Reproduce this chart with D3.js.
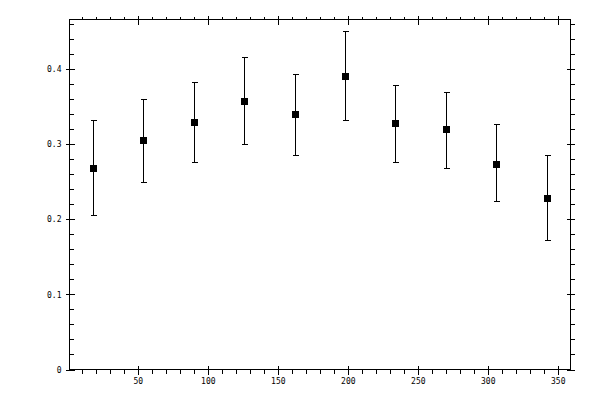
<!DOCTYPE html>
<html>
<head>
<meta charset="utf-8">
<script src="https://cdn.jsdelivr.net/npm/d3@7"></script>
<style>
  body { margin: 0; background: #fff; }
  svg { display: block; }
  text { font-family: "DejaVu Sans Mono", monospace; font-size: 8px; fill: #000; }
</style>
</head>
<body>
<svg id="chart"></svg>
<script>
// bin centres and measured fractions with their error bars
var xVals  = [18, 54, 90, 126, 162, 198, 234, 270, 306, 342]
var yVals  = [0.269, 0.306, 0.330, 0.358, 0.341, 0.3915, 0.328, 0.320, 0.274, 0.229]
var yLow   = [0.206, 0.250, 0.277, 0.300, 0.286, 0.333, 0.277, 0.268, 0.224, 0.173]
var yHigh  = [0.332, 0.360, 0.3835, 0.417, 0.394, 0.4515, 0.3795, 0.370, 0.3265, 0.2863]

var xMajor = [50, 100, 150, 200, 250, 300, 350]
var xMinor = d3.range(10, 360, 10)
var yMajor = [0, 0.1, 0.2, 0.3, 0.4]
var yMinor = d3.range(0, 0.47, 0.02)
var yLabels = ["0", "0.1", "0.2", "0.3", "0.4"]

var dimensions = {
    width: 600,
    height: 400,
    margin: { top: 19.5, bottom: 30.5, left: 69.5, right: 29.5 }
}

var svg = d3.select("#chart")
    .attr("width", dimensions.width)
    .attr("height", dimensions.height)

var xScale = d3.scaleLinear()
    .domain([1.2, 359.1])
    .range([dimensions.margin.left, dimensions.width - dimensions.margin.right])

var yScale = d3.scaleLinear()
    .domain([0, 0.4664])
    .range([dimensions.height - dimensions.margin.bottom, dimensions.margin.top])

var x0 = xScale.range()[0], x1 = xScale.range()[1]
var y0 = yScale.range()[0], y1 = yScale.range()[1]

// frame
svg.append("rect")
    .attr("x", x0).attr("y", y1)
    .attr("width", x1 - x0).attr("height", y0 - y1)
    .attr("fill", "none").attr("stroke", "black").attr("shape-rendering", "crispEdges")

function styleAxis(g) {
    g.select(".domain").remove()
    g.selectAll("line").attr("stroke", "black").attr("shape-rendering", "crispEdges")
}

// minor ticks: left points in, right/top/bottom point out
var minorX = xMinor.filter(function (v) { return xMajor.indexOf(v) < 0 })
var minorY = yMinor.filter(function (v) { return v > 0.005 && Math.abs(v * 10 - Math.round(v * 10)) > 0.01 })

svg.append("g").attr("transform", "translate(0," + y0 + ")")
    .call(d3.axisBottom(xScale).tickValues(minorX).tickSize(4).tickFormat(""))
    .call(styleAxis)
svg.append("g").attr("transform", "translate(0," + y1 + ")")
    .call(d3.axisTop(xScale).tickValues(minorX).tickSize(3).tickFormat(""))
    .call(styleAxis)
svg.append("g").attr("transform", "translate(" + x0 + ",0)")
    .call(d3.axisRight(yScale).tickValues(minorY).tickSize(4).tickFormat(""))
    .call(styleAxis)
svg.append("g").attr("transform", "translate(" + x1 + ",0)")
    .call(d3.axisRight(yScale).tickValues(minorY).tickSize(4).tickFormat(""))
    .call(styleAxis)

// major ticks crossing the frame
var xAxis = svg.append("g").attr("transform", "translate(0," + y0 + ")")
    .call(d3.axisBottom(xScale).tickValues(xMajor).tickSize(5).tickPadding(4).tickFormat(d3.format("d")))
    .call(styleAxis)
xAxis.selectAll("line").attr("y1", -4)

var xTop = svg.append("g").attr("transform", "translate(0," + y1 + ")")
    .call(d3.axisTop(xScale).tickValues(xMajor).tickSize(4).tickFormat(""))
    .call(styleAxis)
xTop.selectAll("line").attr("y1", 5)

var yAxis = svg.append("g").attr("transform", "translate(" + x0 + ",0)")
    .call(d3.axisLeft(yScale).tickValues(yMajor).tickSize(4).tickPadding(4)
        .tickFormat(function (d, i) { return yLabels[i] }))
    .call(styleAxis)
yAxis.selectAll("line").attr("x1", 5)

var yRight = svg.append("g").attr("transform", "translate(" + x1 + ",0)")
    .call(d3.axisRight(yScale).tickValues(yMajor).tickSize(4).tickFormat(""))
    .call(styleAxis)
yRight.selectAll("line").attr("x1", -4)

svg.selectAll("g text").style("font-family", "'DejaVu Sans Mono', monospace").style("font-size", "8px")

// error bars
var pts = xVals.map(function (x, i) { return { x: x, y: yVals[i], lo: yLow[i], hi: yHigh[i] } })

var bars = svg.append("g").attr("stroke", "black").attr("shape-rendering", "crispEdges")
bars.selectAll(".stem").data(pts).enter().append("line")
    .attr("x1", d => Math.round(xScale(d.x)) + 0.5).attr("x2", d => Math.round(xScale(d.x)) + 0.5)
    .attr("y1", d => yScale(d.lo)).attr("y2", d => yScale(d.hi))
bars.selectAll(".capHi").data(pts).enter().append("line")
    .attr("x1", d => Math.round(xScale(d.x)) - 2.5).attr("x2", d => Math.round(xScale(d.x)) + 3.5)
    .attr("y1", d => Math.round(yScale(d.hi)) + 0.5).attr("y2", d => Math.round(yScale(d.hi)) + 0.5)
bars.selectAll(".capLo").data(pts).enter().append("line")
    .attr("x1", d => Math.round(xScale(d.x)) - 2.5).attr("x2", d => Math.round(xScale(d.x)) + 3.5)
    .attr("y1", d => Math.round(yScale(d.lo)) + 0.5).attr("y2", d => Math.round(yScale(d.lo)) + 0.5)

// square markers
svg.append("g").selectAll("rect").data(pts).enter().append("rect")
    .attr("x", d => Math.round(xScale(d.x)) - 3)
    .attr("y", d => Math.round(yScale(d.y)) - 3)
    .attr("width", 7).attr("height", 7)
    .attr("fill", "black")
    .attr("shape-rendering", "crispEdges")
</script>
</body>
</html>
